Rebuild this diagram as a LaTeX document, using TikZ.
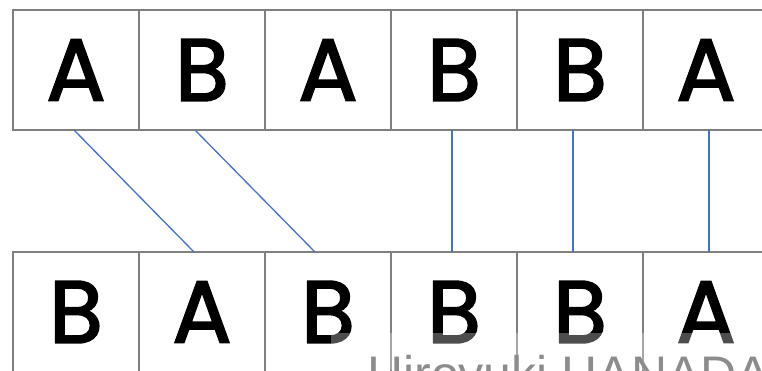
\documentclass[tikz,border=0pt]{standalone}
\usepackage{fontspec}
\setmainfont{Poppins}
\newfontfamily\letterfont{Poppins}[RawFeature={embolden=2.2}]
\newfontfamily\wmfont{Liberation Sans}
\usetikzlibrary{calc}
\definecolor{gridgray}{HTML}{808080}
\definecolor{linkblue}{HTML}{4472C4}
\definecolor{wmgray}{HTML}{8C8C8C}
\begin{document}
\begin{tikzpicture}[x=1pt,y=-1pt,
  cell/.style={draw=gridgray,line width=2pt,minimum width=126pt,minimum height=120pt,inner sep=0pt,outer sep=0pt,
    font=\letterfont\fontsize{88}{88}\selectfont},
  link/.style={draw=linkblue,line width=1.3pt}]
\useasboundingbox (0,0) rectangle (762,370);
\clip (0,0) rectangle (762,370);
\fill[white] (0,0) rectangle (762,370);
% top row
\foreach \i/\l in {1/A,2/B,3/A,4/B,5/B,6/A}{
  \node[cell] (t\i) at ({13+126*(\i-1)+63},70) {\l};
}
% bottom row
\foreach \i/\l in {1/B,2/A,3/B,4/B,5/B,6/A}{
  \node[cell] (b\i) at ({13+126*(\i-1)+63},312) {\l};
}
% connectors
\draw[link] ($(t1.south)+(-2,0)$) -- ($(b2.north)+(-8,0)$);
\draw[link] ($(t2.south)+(-7,0)$) -- ($(b3.north)+(-13,0)$);
\draw[link] ($(t4.south)+(-2,0)$) -- ($(b4.north)+(-2,0)$);
\draw[link] ($(t5.south)+(-7,0)$) -- ($(b5.north)+(-7,0)$);
\draw[link] ($(t6.south)+(3,0)$) -- ($(b6.north)+(3,0)$);
% watermark
\fill[white,opacity=0.3] (331,333) rectangle (762,370);
\node[anchor=base west,inner sep=0pt,text=wmgray,font=\wmfont\fontsize{50}{50}\selectfont] (wm) at (367,391) {Hiroyuki HANADA};
\end{tikzpicture}
\end{document}
